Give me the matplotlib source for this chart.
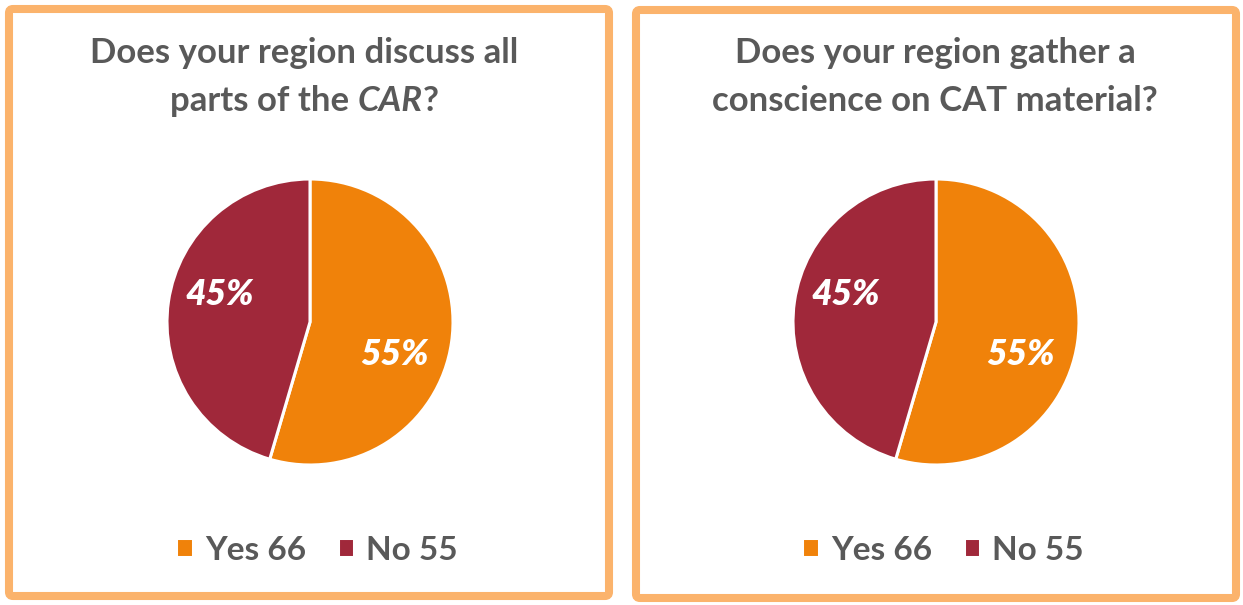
import matplotlib
matplotlib.use("Agg")
import matplotlib.pyplot as plt
from matplotlib.patches import FancyBboxPatch

# survey answers
categories = ["Yes", "No"]
counts_car = [66, 55]
counts_cat = [66, 55]
title_car = ["Does your region discuss all", "parts of the ", "CAR", "?"]
title_cat = ["Does your region gather a", "conscience on CAT material?"]

COLORS = ["#F0820A", "#A0283A"]
BORDER = "#FBB36C"
GREY = "#595959"
FONT = "Lato"
W, H = 1243, 605

fig = plt.figure(figsize=(W / 100, H / 100), dpi=100)
bg = fig.add_axes([0, 0, 1, 1])
bg.set_xlim(0, W)
bg.set_ylim(H, 0)
bg.axis("off")

for x0, y0, w, h in [(9, 9, 600, 587), (636, 10, 600, 588)]:
    bg.add_patch(FancyBboxPatch((x0, y0), w, h, boxstyle="round,pad=0,rounding_size=4",
                                lw=5.8, edgecolor=BORDER, facecolor="white"))

tkw = dict(color=GREY, fontsize=25, fontweight="bold", family=FONT, va="center")

# left title, second line has italic CAR
bg.text(304, 53, title_car[0], ha="center", **tkw)
renderer = fig.canvas.get_renderer()
pieces = []
for s, style in [(title_car[1], "normal"), (title_car[2], "italic"), (title_car[3], "normal")]:
    t = bg.text(0, 101, s, ha="left", style=style, **tkw)
    pieces.append(t)
widths = [p.get_window_extent(renderer).width for p in pieces]
x = 304 - sum(widths) / 2
for p, wd in zip(pieces, widths):
    p.set_x(x)
    x += wd

bg.text(935, 53, title_cat[0], ha="center", **tkw)
bg.text(935, 101, title_cat[1], ha="center", **tkw)

LABEL_POS = [(0.59, -0.23), (-0.63, 0.19)]


def draw_pie(cx, cy, r, counts, legend_x):
    ax = fig.add_axes([(cx - r) / W, (H - cy - r) / H, 2 * r / W, 2 * r / H])
    wedges, _, autotexts = ax.pie(counts, colors=COLORS, startangle=90, counterclock=False,
                                  autopct=lambda p: f"{p:.0f}%",
                                  wedgeprops=dict(edgecolor="white", linewidth=2.2),
                                  textprops=dict(color="white", fontsize=25.5, fontweight="heavy",
                                                 style="italic", family=FONT))
    for t, pos in zip(autotexts, LABEL_POS):
        t.set_position(pos)
        t.set_ha("center")
        t.set_va("center")
    ax.set_xlim(-1, 1)
    ax.set_ylim(-1, 1)
    labels = [f"{c} {n}" for c, n in zip(categories, counts)]
    fig.legend(wedges, labels, loc="center", bbox_to_anchor=(legend_x / W, 1 - 550 / H),
               ncol=2, frameon=False, handlelength=0.5, handleheight=0.5, handletextpad=0.35,
               columnspacing=0.95, prop=dict(family=FONT, weight="bold", size=24),
               labelcolor=GREY)


draw_pie(310, 322, 143, counts_car, 317)
draw_pie(936, 322, 143, counts_cat, 943)

fig.savefig("out.png", dpi=100)
